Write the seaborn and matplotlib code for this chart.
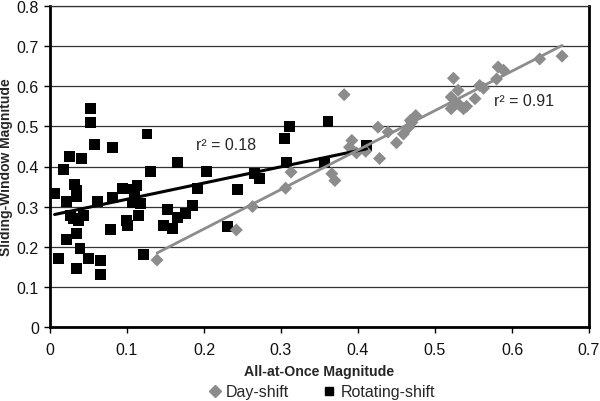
import matplotlib
matplotlib.use("Agg")
import matplotlib.pyplot as plt
from matplotlib.lines import Line2D
import seaborn as sns
import pandas as pd

# Day-shift data
day_x = [0.139, 0.242, 0.263, 0.306, 0.313, 0.366, 0.370, 0.382, 0.389, 0.392,
         0.398, 0.410, 0.426, 0.428, 0.439, 0.450, 0.459, 0.466, 0.470, 0.475,
         0.468, 0.521, 0.524, 0.530, 0.521, 0.526, 0.532, 0.537, 0.541, 0.552,
         0.558, 0.563, 0.580, 0.582, 0.589, 0.636, 0.665]
day_y = [0.167, 0.242, 0.300, 0.346, 0.386, 0.382, 0.365, 0.579, 0.448, 0.465,
         0.434, 0.438, 0.498, 0.420, 0.486, 0.459, 0.481, 0.498, 0.510, 0.527,
         0.515, 0.573, 0.620, 0.590, 0.544, 0.556, 0.553, 0.544, 0.550, 0.569,
         0.602, 0.595, 0.618, 0.648, 0.640, 0.668, 0.675]

# Rotating-shift data
rot_x = [0.006, 0.011, 0.017, 0.021, 0.021, 0.025, 0.027, 0.032, 0.035, 0.034,
         0.034, 0.034, 0.030, 0.037, 0.039, 0.041, 0.043, 0.050, 0.053, 0.053,
         0.058, 0.062, 0.065, 0.065, 0.081, 0.081, 0.079, 0.094, 0.099, 0.101,
         0.104, 0.110, 0.113, 0.107, 0.115, 0.118, 0.122, 0.126, 0.130, 0.152,
         0.148, 0.159, 0.165, 0.166, 0.176, 0.185, 0.192, 0.203, 0.230, 0.244,
         0.265, 0.272, 0.304, 0.311, 0.307, 0.356, 0.361, 0.411]
rot_y = [0.333, 0.171, 0.392, 0.312, 0.219, 0.426, 0.279, 0.354, 0.324, 0.340,
         0.234, 0.145, 0.270, 0.265, 0.195, 0.419, 0.279, 0.170, 0.545, 0.510,
         0.455, 0.312, 0.165, 0.132, 0.448, 0.323, 0.242, 0.346, 0.265, 0.253,
         0.344, 0.327, 0.353, 0.309, 0.278, 0.307, 0.180, 0.481, 0.388, 0.294,
         0.253, 0.245, 0.274, 0.410, 0.282, 0.303, 0.346, 0.388, 0.250, 0.342,
         0.383, 0.371, 0.470, 0.500, 0.409, 0.409, 0.512, 0.452]

x_ticks = [0, 0.1, 0.2, 0.3, 0.4, 0.5, 0.6, 0.7]
y_ticks = [0, 0.1, 0.2, 0.3, 0.4, 0.5, 0.6, 0.7, 0.8]
x_tick_labels = ["0", "0.1", "0.2", "0.3", "0.4", "0.5", "0.6", "0.7"]
y_tick_labels = ["0", "0.1", "0.2", "0.3", "0.4", "0.5", "0.6", "0.7", "0.8"]

sns.set_style("white")
plt.rcParams['font.family'] = ['Liberation Sans', 'DejaVu Sans']

GREY = "#8c8c8c"
BLACK = "#000000"

day_df = pd.DataFrame({"x": day_x, "y": day_y})
rot_df = pd.DataFrame({"x": rot_x, "y": rot_y})

fig = plt.figure(figsize=(6.0, 4.02), dpi=100)
ax = fig.add_axes([50/600, 1 - 328/402, (589-50)/600, (328-7)/402])

ax.set_axisbelow(True)
ax.yaxis.grid(True, color="#333333", linewidth=0.9)
ax.xaxis.grid(False)

sns.scatterplot(data=rot_df, x="x", y="y", ax=ax, marker="s", s=62,
                color=BLACK, edgecolor="none", zorder=3)
sns.scatterplot(data=day_df, x="x", y="y", ax=ax, marker="D", s=44,
                color=GREY, edgecolor="none", zorder=3)
sns.regplot(data=rot_df, x="x", y="y", ax=ax, scatter=False, ci=None,
            line_kws={"color": BLACK, "linewidth": 2.2, "zorder": 4})
sns.regplot(data=day_df, x="x", y="y", ax=ax, scatter=False, ci=None,
            line_kws={"color": GREY, "linewidth": 2.0, "zorder": 4})

ax.set_xlim(0, 0.7)
ax.set_ylim(0, 0.8)
ax.set_xticks(x_ticks)
ax.set_xticklabels(x_tick_labels)
ax.set_yticks(y_ticks)
ax.set_yticklabels(y_tick_labels)
ax.tick_params(axis="both", which="both", direction="out", length=4, width=1,
               color="black", labelsize=11.5, labelcolor="#111111")
ax.tick_params(axis="x", pad=7)
ax.tick_params(axis="y", pad=4)
ax.tick_params(left=True, bottom=True)

for side in ["left", "bottom", "right", "top"]:
    ax.spines[side].set_visible(True)
    ax.spines[side].set_color("black")
    ax.spines[side].set_linewidth(2.0)
ax.spines["top"].set_linewidth(0.9)
ax.spines["top"].set_color("#333333")

ax.set_xlabel("All-at-Once Magnitude", fontsize=10.2, fontweight="bold")
ax.xaxis.set_label_coords(0.5, -(365 - 328) / 321, transform=ax.transAxes)
ax.set_ylabel("Sliding-Window Magnitude", fontsize=10, fontweight="bold")
ax.yaxis.set_label_coords(-(50 - 13) / 539, 0.5, transform=ax.transAxes)

ax.text(0.19, 0.454, "r² = 0.18", fontsize=11.5, va="center", ha="left")
ax.text(0.577, 0.564, "r² = 0.91", fontsize=11.5, va="center", ha="left")

handles = [
    Line2D([], [], marker="D", color=GREY, linestyle="none", markersize=6),
    Line2D([], [], marker="s", color=BLACK, linestyle="none", markersize=6),
]
fig.legend(handles, ["Day-shift", "Rotating-shift"], loc="center",
           bbox_to_anchor=(0.535, 1 - 393 / 402), ncol=2, frameon=False,
           fontsize=11.5, handletextpad=0.2, columnspacing=2.0,
           handlelength=1.0, borderpad=0.0)

fig.savefig("out.png", dpi=100)
